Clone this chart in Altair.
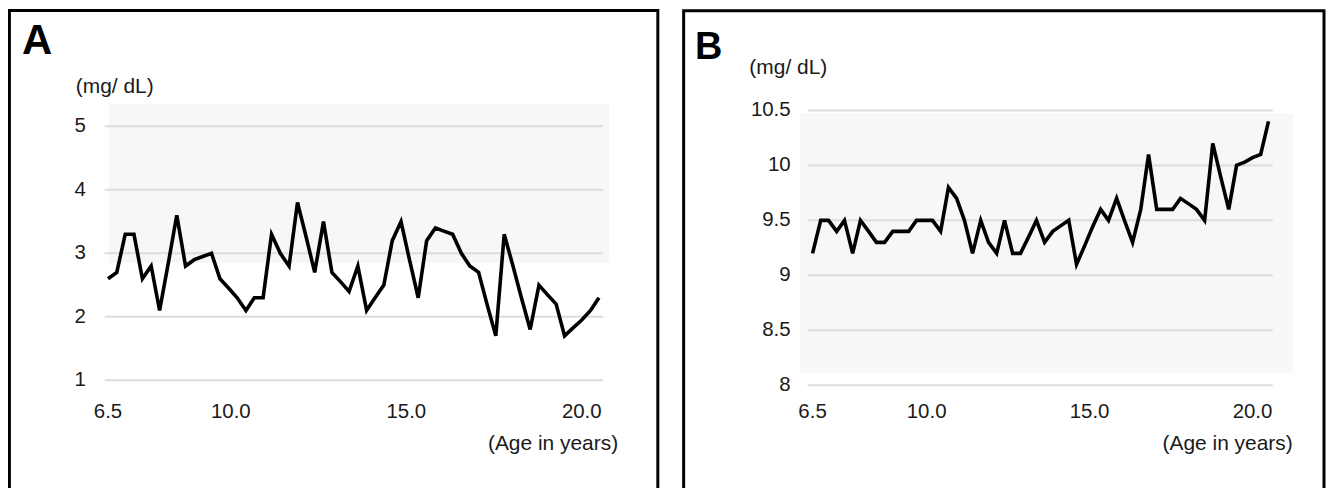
import altair as alt
import pandas as pd

# ---------------- data ----------------
ages = [6.50, 6.75, 6.99, 7.24, 7.48, 7.73, 7.97, 8.22, 8.46, 8.71,
        8.96, 9.20, 9.45, 9.69, 9.94, 10.18, 10.43, 10.67, 10.92, 11.16,
        11.41, 11.66, 11.90, 12.15, 12.39, 12.64, 12.88, 13.13, 13.37, 13.62,
        13.87, 14.11, 14.36, 14.60, 14.85, 15.09, 15.34, 15.58, 15.83, 16.07,
        16.32, 16.57, 16.81, 17.06, 17.30, 17.55, 17.79, 18.04, 18.28, 18.53,
        18.78, 19.02, 19.27, 19.51, 19.76, 20.00, 20.25, 20.49]

panel_a_values = [2.6, 2.7, 3.3, 3.3, 2.6, 2.8, 2.1, 2.85, 3.6, 2.8,
                  2.9, 2.95, 3.0, 2.6, 2.45, 2.3, 2.1, 2.3, 2.3, 3.3,
                  3.0, 2.8, 3.8, 3.25, 2.7, 3.5, 2.7, 2.55, 2.4, 2.8,
                  2.1, 2.3, 2.5, 3.2, 3.5, 2.9, 2.3, 3.2, 3.4, 3.35,
                  3.3, 3.0, 2.8, 2.7, 2.2, 1.7, 3.3, 2.8, 2.3, 1.8,
                  2.5, 2.35, 2.2, 1.7, 1.83, 1.95, 2.1, 2.3]

panel_b_values = [9.2, 9.5, 9.5, 9.4, 9.5, 9.2, 9.5, 9.4, 9.3, 9.3,
                  9.4, 9.4, 9.4, 9.5, 9.5, 9.5, 9.4, 9.8, 9.7, 9.5,
                  9.2, 9.5, 9.3, 9.2, 9.5, 9.2, 9.2, 9.35, 9.5, 9.3,
                  9.4, 9.45, 9.5, 9.1, 9.27, 9.44, 9.6, 9.5, 9.7, 9.5,
                  9.3, 9.6, 10.1, 9.6, 9.6, 9.6, 9.7, 9.65, 9.6, 9.5,
                  10.2, 9.9, 9.6, 10.0, 10.03, 10.07, 10.1, 10.4]

x_tick_values = [6.5, 10.0, 15.0, 20.0]
x_tick_labels = ["6.5", "10.0", "15.0", "20.0"]

a_tick_values = [1, 2, 3, 4, 5]
a_tick_labels = ["1", "2", "3", "4", "5"]

b_tick_values = [8, 8.5, 9, 9.5, 10, 10.5]
b_tick_labels = ["8", "8.5", "9", "9.5", "10", "10.5"]

unit_label = "(mg/ dL)"
x_title = "(Age in years)"

FONT = "Liberation Sans"
TXT = "#1a1a1a"


def build_panel(letter, values, yvals, ylabels, ydomain, g):
    one = pd.DataFrame({"k": [0]})
    line_df = pd.DataFrame({"age": ages, "value": values})
    y_df = pd.DataFrame({"v": yvals, "lab": ylabels})
    x_df = pd.DataFrame({"v": x_tick_values, "lab": x_tick_labels})

    xs = alt.Scale(domain=[6.5, 20.0], range=g["xrange"], nice=False, zero=False)
    ys = alt.Scale(domain=ydomain, range=g["yrange"], nice=False, zero=False)

    band = alt.Chart(one).mark_rect(color="#f7f7f7").encode(
        x=alt.value(g["band"][0]), x2=alt.value(g["band"][1]),
        y=alt.value(g["band"][2]), y2=alt.value(g["band"][3]))

    grid = alt.Chart(y_df).mark_rule(color="#dcdcdc", strokeWidth=2).encode(
        y=alt.Y("v:Q", scale=ys, axis=None),
        x=alt.value(g["grid"][0]), x2=alt.value(g["grid"][1]))

    line = alt.Chart(line_df).mark_line(color="black", strokeWidth=3.6).encode(
        x=alt.X("age:Q", scale=xs, axis=None),
        y=alt.Y("value:Q", scale=ys, axis=None))

    ylab = alt.Chart(y_df).mark_text(
        align="right", baseline="middle", fontSize=20.5, font=FONT, color=TXT
    ).encode(y=alt.Y("v:Q", scale=ys, axis=None), x=alt.value(g["ylab_x"]), text="lab:N")

    xlab = alt.Chart(x_df).mark_text(
        align="center", baseline="middle", fontSize=20.5, font=FONT, color=TXT
    ).encode(x=alt.X("v:Q", scale=xs, axis=None), y=alt.value(g["xlab_y"]), text="lab:N")

    unit = alt.Chart(one).mark_text(
        text=unit_label, align="left", baseline="middle", fontSize=21, font=FONT, color=TXT
    ).encode(x=alt.value(g["unit"][0]), y=alt.value(g["unit"][1]))

    xt = alt.Chart(one).mark_text(
        text=x_title, align="right", baseline="middle", fontSize=21, font=FONT, color=TXT
    ).encode(x=alt.value(g["xtitle"][0]), y=alt.value(g["xtitle"][1]))

    let = alt.Chart(one).mark_text(
        text=letter, align="left", baseline="alphabetic", fontSize=g["letter_size"],
        fontWeight="bold", font=FONT, color="black"
    ).encode(x=alt.value(g["letter"][0]), y=alt.value(g["letter"][1]))

    frame = alt.Chart(one).mark_rect(filled=False, stroke="black", strokeWidth=3).encode(
        x=alt.value(g["frame"][0]), x2=alt.value(g["frame"][1]),
        y=alt.value(g["frame"][2]), y2=alt.value(g["frame"][3]))

    return alt.layer(band, grid, line, ylab, xlab, unit, xt, let, frame)


geom_a = dict(
    xrange=[100.3, 575.5], yrange=[372.7, 118.0],
    band=[101, 603, 95, 255], grid=[97, 597],
    ylab_x=78, xlab_y=404.5, unit=[68, 79], xtitle=[612, 437],
    letter=[14, 45.3], letter_size=42, frame=[1.4, 651.8, 1.7, 620],
)
geom_b = dict(
    xrange=[807.0, 1248.3], yrange=[377.7, 102.0],
    band=[794.5, 1288.6, 105, 365], grid=[802, 1268.6],
    ylab_x=785, xlab_y=404.5, unit=[743.6, 59], xtitle=[1288.6, 437],
    letter=[689, 50.3], letter_size=38, frame=[677.7, 1320, 2.0, 620],
)

panel_a = build_panel("A", panel_a_values, a_tick_values, a_tick_labels, [1, 5], geom_a)
panel_b = build_panel("B", panel_b_values, b_tick_values, b_tick_labels, [8, 10.5], geom_b)

chart = alt.layer(panel_a, panel_b).resolve_scale(
    x="independent", y="independent"
).properties(
    width=1324, height=482, padding=0,
    autosize=alt.AutoSizeParams(type="none"),
    background="white",
).configure_view(stroke=None)

chart.save("out.html", embed_options={"renderer": "svg", "actions": False})
